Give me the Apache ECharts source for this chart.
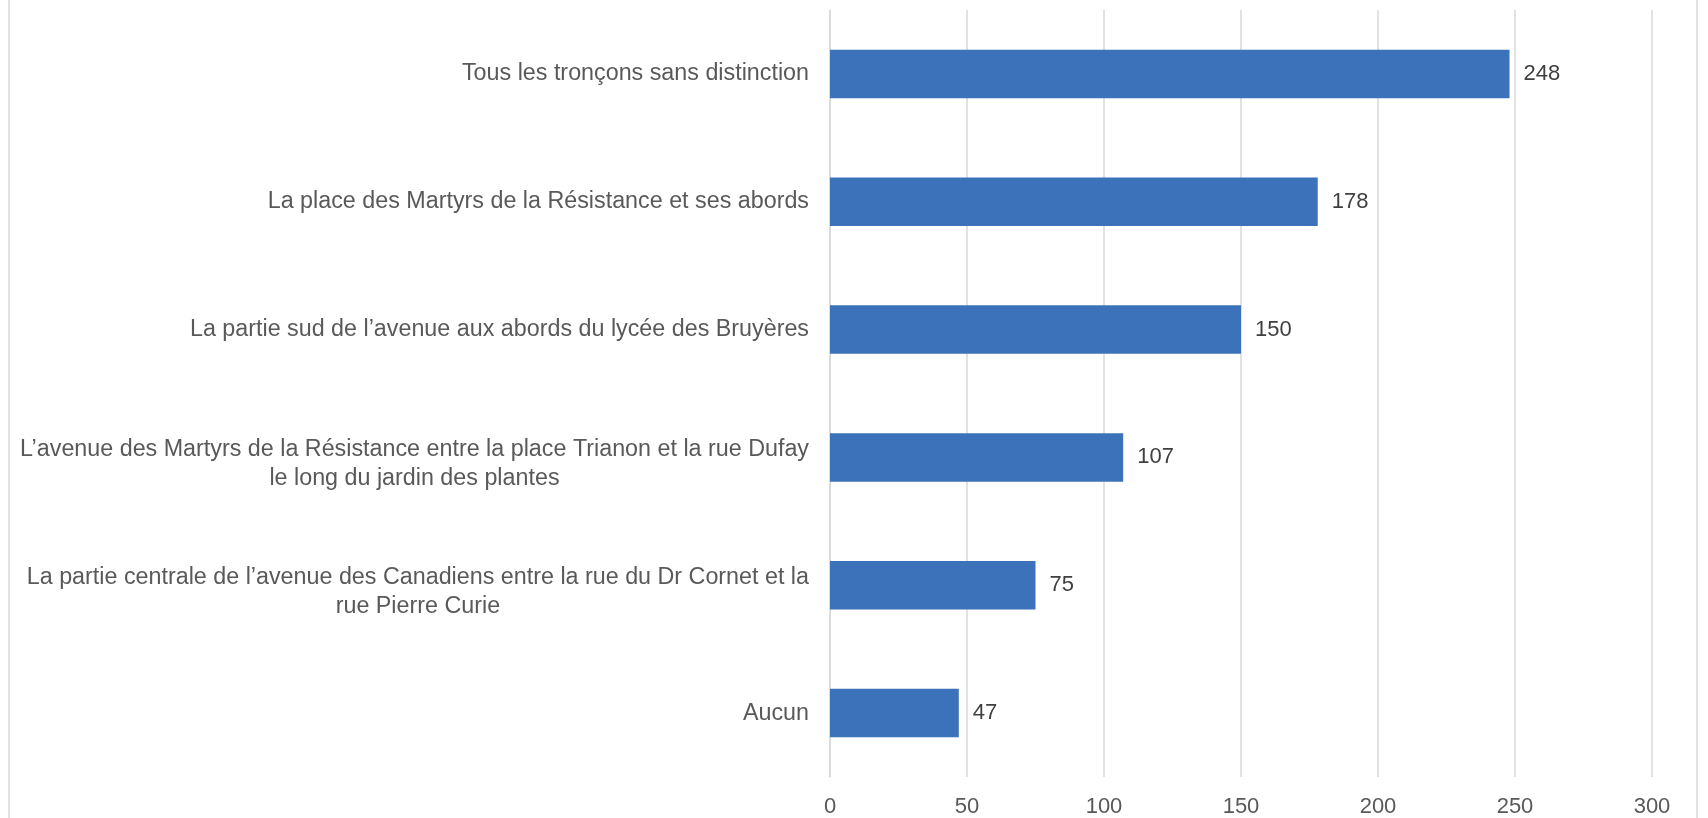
<!DOCTYPE html>
<html>
<head>
<meta charset="utf-8">
<script src="https://cdn.jsdelivr.net/npm/echarts@6/dist/echarts.min.js"></script>
<style>
  html, body { margin: 0; padding: 0; background: #fff; }
  #chart { width: 1708px; height: 818px; }
</style>
</head>
<body>
<div id="chart"></div>
<script>
// top to bottom, as in the picture
var categories = [
  "Tous les tronçons sans distinction",
  "La place des Martyrs de la Résistance et ses abords",
  "La partie sud de l’avenue aux abords du lycée des Bruyères",
  "L’avenue des Martyrs de la Résistance entre la place Trianon et la rue Dufay\nle long du jardin des plantes",
  "La partie centrale de l’avenue des Canadiens entre la rue du Dr Cornet et la\nrue Pierre Curie",
  "Aucun"
];
var values = [248, 178, 150, 107, 75, 47];
var xTicks = [0, 50, 100, 150, 200, 250, 300];

var font = "'Liberation Sans', Arial, sans-serif";
var chart = echarts.init(document.getElementById('chart'));

var option = {
  backgroundColor: '#fff',
  animation: false,
  grid: { left: 830, right: 56, top: 10, bottom: 41 },
  // frame edges of the original chart
  graphic: [
    { type: 'line', shape: { x1: 9, y1: 0, x2: 9, y2: 818 }, style: { stroke: '#d9d9d9', lineWidth: 1.5 } },
    { type: 'line', shape: { x1: 1697, y1: 0, x2: 1697, y2: 818 }, style: { stroke: '#d9d9d9', lineWidth: 1.5 } }
  ],
  xAxis: {
    type: 'value',
    min: xTicks[0],
    max: xTicks[xTicks.length - 1],
    interval: 50,
    axisLine: { show: false },
    axisTick: { show: false },
    splitLine: { lineStyle: { color: '#d9d9d9', width: 1.5 } },
    axisLabel: { fontSize: 22, color: '#595959', fontFamily: font, margin: 19 }
  },
  yAxis: {
    type: 'category',
    inverse: true,
    data: categories,
    axisLine: { lineStyle: { color: '#d9d9d9', width: 1.5 } },
    axisTick: { length: 6, lineStyle: { color: '#d9d9d9', width: 1.5 } },
    axisLabel: {
      margin: 21,
      formatter: function (v) {
        var lines = v.split('\n');
        if (lines.length === 1) return '{c|' + v + '}';
        // two-line labels sit a little lower in the original: add a thin spacer line on top
        return '{s| }\n' + lines.map(function (s) { return '{c|' + s + '}'; }).join('\n');
      },
      rich: {
        c: { align: 'center', fontSize: 23.3, lineHeight: 29, color: '#595959', fontFamily: font },
        s: { fontSize: 1, lineHeight: 13 }
      }
    }
  },
  series: [{
    type: 'bar',
    data: values,
    barWidth: '38%',
    itemStyle: { color: '#3c72b9' },
    label: {
      show: true,
      position: 'right',
      distance: 14,
      fontSize: 22,
      color: '#404040',
      fontFamily: font
    }
  }]
};
chart.setOption(option);
</script>
</body>
</html>
